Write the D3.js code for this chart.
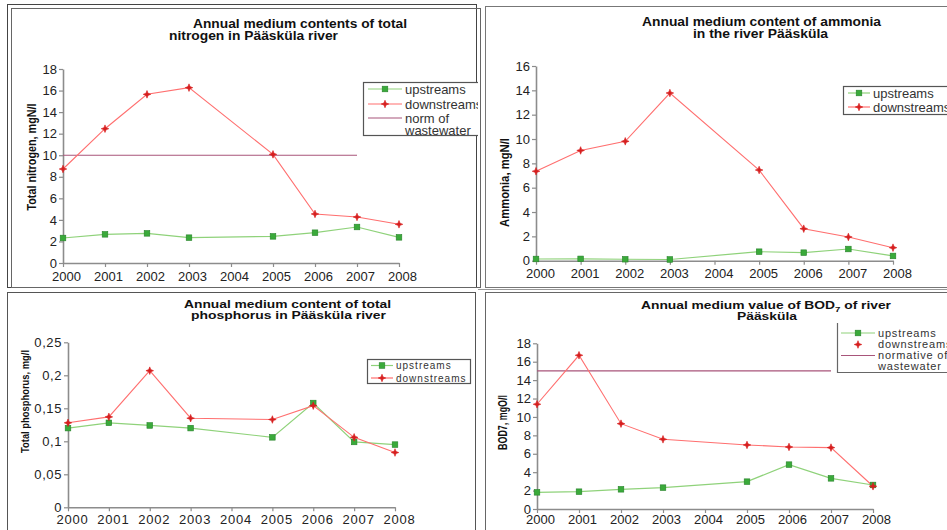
<!DOCTYPE html>
<html>
<head>
<meta charset="utf-8">
<script src="https://cdn.jsdelivr.net/npm/d3@7/dist/d3.min.js"></script>
<style>
  body { margin: 0; background: #fff; }
  svg { display: block; font-family: "Liberation Sans", Arial, sans-serif; }
</style>
</head>
<body>
<svg id="chart" width="947" height="530"></svg>
<script>
// Years on the category axis (2004 has no measurement)
const years = ["2000", "2001", "2002", "2003", "2004", "2005", "2006", "2007", "2008"];

// Total nitrogen, mgN/l
const nitrogenUp   = [2.32, 2.66, 2.75, 2.35, null, 2.47, 2.81, 3.34, 2.38];
const nitrogenDown = [8.72, 12.46, 15.65, 16.27, null, 10.08, 4.55, 4.27, 3.59];
const nitrogenNorm = 10;
const nitrogenTicks = [0, 2, 4, 6, 8, 10, 12, 14, 16, 18];

// Ammonia, mgN/l
const ammoniaUp   = [0.14, 0.15, 0.12, 0.10, null, 0.74, 0.66, 0.96, 0.39];
const ammoniaDown = [7.35, 9.06, 9.81, 13.78, null, 7.45, 2.63, 1.95, 1.07];
const ammoniaTicks = [0, 2, 4, 6, 8, 10, 12, 14, 16];

// Total phosphorus, mg/l
const phosphorusUp   = [0.120, 0.128, 0.124, 0.120, null, 0.106, 0.158, 0.099, 0.095];
const phosphorusDown = [0.128, 0.137, 0.207, 0.135, null, 0.133, 0.154, 0.106, 0.083];
const phosphorusTicks = [0, 0.05, 0.1, 0.15, 0.2, 0.25];
const phosphorusTickLabels = ["0", "0,05", "0,1", "0,15", "0,2", "0,25"];

// BOD7, mgO/l
const bodUp   = [1.81, 1.88, 2.14, 2.32, null, 2.97, 4.82, 3.33, 2.61];
const bodDown = [11.38, 16.70, 9.27, 7.57, null, 6.96, 6.74, 6.67, 2.47];
const bodNorm = 15;
const bodTicks = [0, 2, 4, 6, 8, 10, 12, 14, 16, 18];

// Wastewater norm is drawn across this span of years
const normSpan = ["2000", "2007"];

const COLORS = {
  upLine: "#8fd27a", upFill: "#3aaa3a", upStroke: "#27822a",
  downLine: "#ff6f6f", downFill: "#d61f1f",
  norm: "#a8557a", axis: "#8c8c8c", text: "#222", frame: "#555"
};

const svg = d3.select("#chart");
const defs = svg.append("defs");

const panels = [
  {
    id: "n", clip: [0, 0, 478, 289],
    up: nitrogenUp, down: nitrogenDown, norm: nitrogenNorm,
    ticks: nitrogenTicks, fmt: d3.format("d"), max: 18,
    x0: 63, x1: 399, yb: 263, yt: 69, xPad: 5, xDx: 3,
    titles: [
      { text: "Annual medium contents of total", x: 193, y: 28, w: 214, size: 12.5 },
      { text: "nitrogen in Pääsküla river", x: 169, y: 39.5, w: 169, size: 12.5 }
    ],
    ylab: { text: "Total nitrogen, mgN/l", x: 36, y: 157, w: 107, size: 13 },
    legend: {
      box: [363, 82, 116, 53], sx: [368, 402], tx: 405, size: 13, ls: 0,
      rows: [
        { kind: "up", label: ["upstreams"], y: 89 },
        { kind: "down", label: ["downstreams"], y: 104 },
        { kind: "norm", label: ["norm of", "wastewater"], y: 118, y2: 130.5 }
      ]
    }
  },
  {
    id: "a", clip: [478, 0, 469, 289],
    up: ammoniaUp, down: ammoniaDown, norm: null,
    ticks: ammoniaTicks, fmt: d3.format("d"), max: 16,
    x0: 536, x1: 893, yb: 260.7, yt: 66, xPad: 4.5, xDx: 4,
    titles: [
      { text: "Annual medium content of ammonia", x: 642, y: 26, w: 239, size: 12.5 },
      { text: "in the river Pääsküla", x: 693, y: 37.7, w: 135, size: 12.5 }
    ],
    ylab: { text: "Ammonia, mgN/l", x: 508.5, y: 182.5, w: 89, size: 13 },
    legend: {
      box: [843, 86, 120, 28], sx: [848, 870], tx: 873, size: 13, ls: 0,
      rows: [
        { kind: "up", label: ["upstreams"], y: 93 },
        { kind: "down", label: ["downstreams"], y: 107 }
      ]
    }
  },
  {
    id: "p", clip: [0, 290, 478, 240],
    up: phosphorusUp, down: phosphorusDown, norm: null,
    ticks: phosphorusTicks,
    fmt: d => phosphorusTickLabels[phosphorusTicks.indexOf(d)], max: 0.25,
    x0: 68, x1: 395, yb: 507.3, yt: 342.3, xPad: 3, xDx: 4,
    titles: [
      { text: "Annual medium content of total", x: 184, y: 308, w: 207, size: 11.5 },
      { text: "phosphorus in Pääsküla river", x: 191, y: 318.5, w: 195, size: 11.5 }
    ],
    ylab: { text: "Total phosphorus, mg/l", x: 28.5, y: 401.5, w: 103, size: 11.5 },
    legend: {
      box: [367, 359, 103, 24], sx: [371, 393], tx: 396, size: 10, ls: 1,
      rows: [
        { kind: "up", label: ["upstreams"], y: 365.5 },
        { kind: "down", label: ["downstreams"], y: 378 }
      ]
    }
  },
  {
    id: "b", clip: [478, 290, 469, 240],
    up: bodUp, down: bodDown, norm: bodNorm,
    ticks: bodTicks, fmt: d3.format("d"), max: 18,
    x0: 537, x1: 873, yb: 509, yt: 343.3, xPad: 2, xDx: 3,
    titles: [
      { text: "Annual medium value of BOD", sub: "7", rest: " of river", x: 641, y: 309, w: 250, size: 11.5 },
      { text: "Pääsküla", x: 737, y: 320, w: 60, size: 11.5 }
    ],
    ylab: { text: "BOD7, mgO/l", x: 506.5, y: 422.5, w: 55, size: 12 },
    legend: {
      open: true, box: [837, 323, 120, 49], sx: [841, 875], tx: 878, size: 11, ls: 0.8,
      rows: [
        { kind: "up", label: ["upstreams"], y: 333 },
        { kind: "downMarker", label: ["downstreams"], y: 344.5 },
        { kind: "norm", label: ["normative of", "wastewater"], y: 355.5, y2: 366.5 }
      ]
    }
  }
];

// Panel frames
function frames() {
  const f = svg.append("g").attr("fill", "none");
  f.append("rect").attr("x", 7.5).attr("y", 4.5).attr("width", 469).attr("height", 283)
    .attr("stroke", "#444");
  f.append("rect").attr("x", 11.5).attr("y", 8.5).attr("width", 469).attr("height", 279)
    .attr("stroke", "#666");
  f.append("rect").attr("x", 485.5).attr("y", 6.5).attr("width", 480).attr("height", 281)
    .attr("stroke", "#777");
  f.append("rect").attr("x", 7.5).attr("y", 292.5).attr("width", 468).attr("height", 260)
    .attr("stroke", "#555");
  f.append("rect").attr("x", 485.5).attr("y", 292.5).attr("width", 480).attr("height", 260)
    .attr("stroke", "#666");
  f.append("line").attr("x1", 478).attr("x2", 947).attr("y1", 289.5).attr("y2", 289.5)
    .attr("stroke", "#999");
}

// Small four-pointed star used for the downstream series
const starPath = (() => {
  const pts = [];
  for (let i = 0; i < 8; i++) {
    const a = -Math.PI / 2 + i * Math.PI / 4;
    const r = i % 2 === 0 ? 3.8 : 1.5;
    pts.push([r * Math.cos(a), r * Math.sin(a)]);
  }
  return "M" + pts.map(p => p.join(",")).join("L") + "Z";
})();

function square(g, cx, cy) {
  g.append("rect").attr("x", cx - 2.8).attr("y", cy - 2.8).attr("width", 5.6).attr("height", 5.6)
    .attr("fill", COLORS.upFill).attr("stroke", COLORS.upStroke).attr("stroke-width", 0.6);
}
function star(g, cx, cy) {
  g.append("path").attr("d", starPath)
    .attr("transform", `translate(${cx},${cy})`).attr("fill", COLORS.downFill)
    .attr("stroke", COLORS.downFill).attr("stroke-width", 0.6);
}

function drawPanel(p) {
  defs.append("clipPath").attr("id", "clip-" + p.id).append("rect")
    .attr("x", p.clip[0]).attr("y", p.clip[1]).attr("width", p.clip[2]).attr("height", p.clip[3]);
  const g = svg.append("g").attr("clip-path", `url(#clip-${p.id})`);

  const x = d3.scalePoint().domain(years).range([p.x0, p.x1]);
  const y = d3.scaleLinear().domain([0, p.max]).range([p.yb, p.yt]);

  // Axes
  const ya = g.append("g").attr("transform", `translate(${p.x0},0)`)
    .call(d3.axisLeft(y).tickValues(p.ticks).tickFormat(p.fmt).tickSize(4).tickSizeOuter(0).tickPadding(2));
  const xa = g.append("g").attr("transform", `translate(0,${p.yb})`)
    .call(d3.axisBottom(x).tickSize(4).tickSizeOuter(0).tickPadding(p.xPad));
  [ya, xa].forEach(a => {
    a.select(".domain").attr("stroke", COLORS.axis).attr("stroke-width", 1.6);
    a.selectAll(".tick line").attr("stroke", COLORS.axis).attr("stroke-width", 1.2);
    a.selectAll(".tick text").attr("fill", COLORS.text).attr("font-size", 13)
      .attr("font-family", "'Liberation Sans', Arial, sans-serif");
  });
  xa.selectAll(".tick text").attr("dx", p.xDx);
  if (p.id === "p") {
    ya.selectAll(".tick text").attr("letter-spacing", 0.6);
    xa.selectAll(".tick text").attr("letter-spacing", 0.8);
  }

  // Wastewater norm
  if (p.norm !== null) {
    g.append("path")
      .attr("d", d3.line().x(d => x(d)).y(() => y(p.norm))(normSpan))
      .attr("fill", "none").attr("stroke", COLORS.norm).attr("stroke-width", 1.1);
  }

  // Series: points with no value are skipped so the line joins its neighbours
  const pts = vals => years.map((yr, i) => ({ yr, v: vals[i] })).filter(d => d.v !== null);
  const line = d3.line().x(d => x(d.yr)).y(d => y(d.v));
  const upPts = pts(p.up), downPts = pts(p.down);

  g.append("path").attr("d", line(upPts)).attr("fill", "none")
    .attr("stroke", COLORS.upLine).attr("stroke-width", 1.2);
  g.append("path").attr("d", line(downPts)).attr("fill", "none")
    .attr("stroke", COLORS.downLine).attr("stroke-width", 1.1);
  upPts.forEach(d => square(g, x(d.yr), y(d.v)));
  downPts.forEach(d => star(g, x(d.yr), y(d.v)));

  // Titles
  p.titles.forEach(t => {
    const tx = g.append("text").attr("x", t.x).attr("y", t.y)
      .attr("font-size", t.size).attr("font-weight", "bold").attr("fill", "#111")
      .attr("textLength", t.w).attr("lengthAdjust", "spacingAndGlyphs");
    tx.append("tspan").text(t.text);
    if (t.sub) {
      tx.append("tspan").attr("font-size", t.size * 0.7).attr("dy", 3).text(t.sub);
      tx.append("tspan").attr("dy", -3).text(t.rest);
    }
  });

  // Y axis title
  g.append("text")
    .attr("transform", `translate(${p.ylab.x},${p.ylab.y}) rotate(-90)`)
    .attr("text-anchor", "middle").attr("font-size", p.ylab.size).attr("font-weight", "bold")
    .attr("fill", "#111").attr("textLength", p.ylab.w).attr("lengthAdjust", "spacingAndGlyphs")
    .text(p.ylab.text);

  // Legend
  const L = p.legend;
  const lg = g.append("g");
  const [bx, by, bw, bh] = L.box;
  if (L.open) {
    lg.append("path").attr("d", `M${bx + 0.5},${by}V${by + bh + 0.5}H${bx + bw}`)
      .attr("fill", "none").attr("stroke", "#666").attr("stroke-width", 1.2);
  } else {
    lg.append("rect").attr("x", bx + 0.5).attr("y", by + 0.5).attr("width", bw).attr("height", bh)
      .attr("fill", "#fff").attr("stroke", "#555").attr("stroke-width", 1.2);
  }
  const mid = (L.sx[0] + L.sx[1]) / 2;
  L.rows.forEach(r => {
    if (r.kind === "up" || r.kind === "down" || r.kind === "norm") {
      const col = r.kind === "up" ? COLORS.upLine : r.kind === "down" ? COLORS.downLine : COLORS.norm;
      lg.append("line").attr("x1", L.sx[0]).attr("x2", L.sx[1]).attr("y1", r.y).attr("y2", r.y)
        .attr("stroke", col).attr("stroke-width", 1.2);
    }
    if (r.kind === "up") square(lg, mid, r.y);
    if (r.kind === "down" || r.kind === "downMarker") star(lg, mid, r.y);
    r.label.forEach((s, i) => {
      lg.append("text").attr("x", L.tx).attr("y", i === 0 ? r.y : r.y2).attr("dy", "0.35em")
        .attr("font-size", L.size).attr("letter-spacing", L.ls).attr("fill", "#333").text(s);
    });
  });
}

frames();
panels.forEach(drawPanel);
</script>
</body>
</html>
